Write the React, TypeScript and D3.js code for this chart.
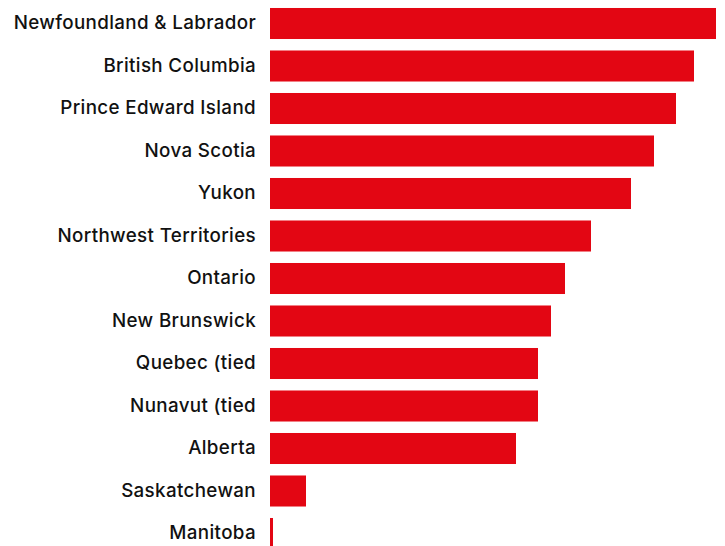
import React from "react";
import * as d3 from "d3";

const provinces = [
  "Newfoundland & Labrador",
  "British Columbia",
  "Prince Edward Island",
  "Nova Scotia",
  "Yukon",
  "Northwest Territories",
  "Ontario",
  "New Brunswick",
  "Quebec (tied",
  "Nunavut (tied",
  "Alberta",
  "Saskatchewan",
  "Manitoba",
];

const values = [446, 424, 406, 384, 361, 321, 295, 281, 268, 268, 246, 36, 3];

const W = 725;
const H = 546;

export default function App() {
  const x = d3.scaleLinear().domain([0, 446]).range([270, 716]);
  const y = d3
    .scaleBand<string>()
    .domain(provinces)
    .range([8 - 5.75, 8 - 5.75 + 42.5 * provinces.length])
    .paddingInner(0.27)
    .paddingOuter(0.135);
  const bw = y.bandwidth();
  return (
    <svg
      width={W}
      height={H}
      style={{ position: "absolute", left: 0, top: 0, display: "block" }}
    >
      {provinces.map((p, i) => {
        const yy = y(p)!;
        return (
          <g key={p}>
            <rect x={x(0)} y={yy} width={x(values[i]) - x(0)} height={bw} fill="#e30613" />
            <text
              x={256}
              y={yy + bw / 2}
              dy="0.3em"
              textAnchor="end"
              fontFamily="Inter, 'Liberation Sans', sans-serif"
              fontWeight={500}
              fontSize={18.8}
              letterSpacing={0.35}
              fill="#111"
            >
              {p}
            </text>
          </g>
        );
      })}
    </svg>
  );
}
